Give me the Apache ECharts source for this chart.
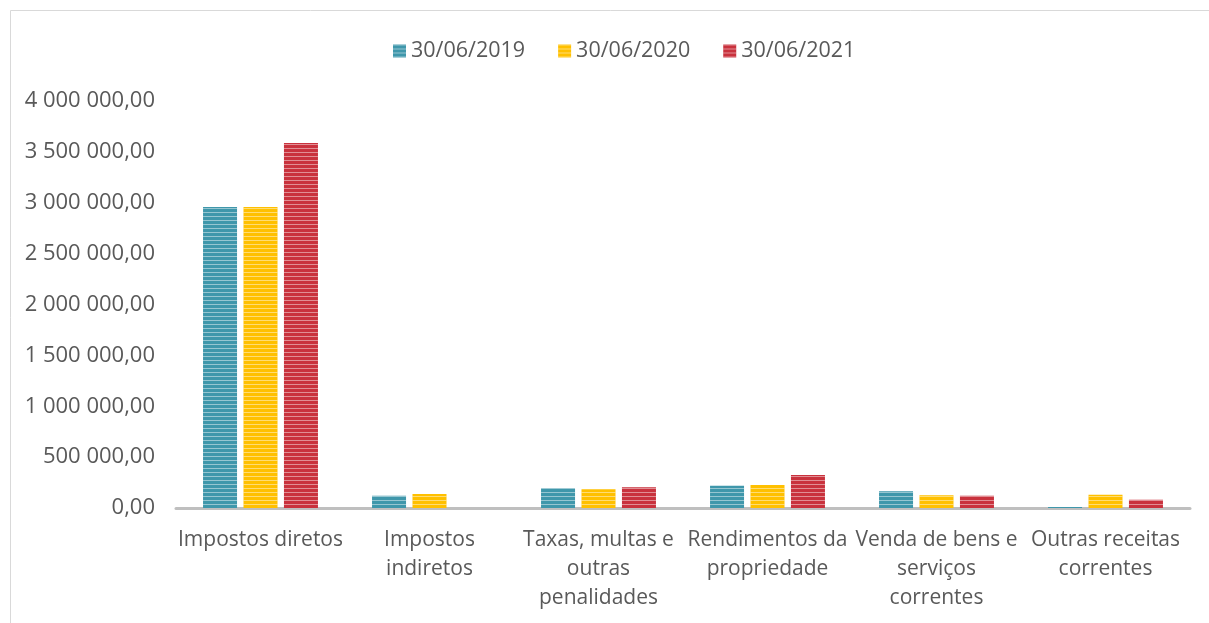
<!DOCTYPE html>
<html>
<head>
<meta charset="utf-8">
<script src="https://cdn.jsdelivr.net/npm/echarts@6/dist/echarts.min.js"></script>
<style>
html, body { margin: 0; padding: 0; background: #fff; }
#chart { width: 1209px; height: 623px; }
</style>
</head>
<body>
<div id="chart"></div>
<script>
// categorias do eixo X
var categorias = ['Impostos diretos', 'Impostos\nindiretos', 'Taxas, multas e\noutras\npenalidades',
    'Rendimentos da\npropriedade', 'Venda de bens e\nserviços\ncorrentes', 'Outras receitas\ncorrentes'];
var series_nomes = ['30/06/2019', '30/06/2020', '30/06/2021'];
// valores
var valores_2019 = [2958000, 121000, 194000, 219000, 164000, 10000];
var valores_2020 = [2958000, 138000, 184000, 226000, 125000, 131000];
var valores_2021 = [3587000, 0, 203000, 324000, 121000, 82000];
var cores = ['#3f97ab', '#ffc000', '#c9323d'];

var fonte = "'Open Sans', sans-serif";

// formatar números: 4 000 000,00
function formatarNumero(v) {
    var s = Math.round(v).toString();
    s = s.replace(/\B(?=(\d{3})+(?!\d))/g, ' ');
    return s + ',00';
}

function criarSerie(nome, dados, cor) {
    return {
        name: nome,
        type: 'bar',
        data: dados,
        barWidth: 34,
        barGap: '19%',
        itemStyle: {
            color: cor,
            decal: {
                symbol: 'rect',
                symbolSize: 1,
                color: 'rgba(255,255,255,0.45)',
                dashArrayX: [1, 0],
                dashArrayY: [1, 3],
                rotation: 0
            }
        }
    };
}

var chart = echarts.init(document.getElementById('chart'));
chart.setOption({
    animation: false,
    backgroundColor: '#fff',
    graphic: [{
        type: 'rect',
        shape: { x: 10.5, y: 10.5, width: 1260, height: 700 },
        style: { fill: 'none', stroke: '#d9d9d9', lineWidth: 1 }
    }],
    legend: {
        top: 35,
        left: 388,
        itemWidth: 13,
        itemHeight: 13,
        itemGap: 33,
        icon: 'rect',
        textStyle: { color: '#595959', fontSize: 21.5, fontFamily: fonte, padding: [0, 0, 0, 0] },
        data: series_nomes
    },
    grid: { left: 176, right: 19, top: 101, bottom: 115 },
    xAxis: {
        type: 'category',
        data: categorias,
        axisTick: { show: false },
        axisLine: { lineStyle: { color: '#bfbfbf', width: 3 } },
        axisLabel: {
            interval: 0,
            margin: 18,
            color: '#595959',
            fontSize: 21,
            lineHeight: 29,
            fontFamily: fonte
        }
    },
    yAxis: {
        type: 'value',
        min: 0,
        max: 4000000,
        interval: 500000,
        splitLine: { show: false },
        axisLine: { show: false },
        axisTick: { show: false },
        axisLabel: {
            margin: 21,
            color: '#595959',
            fontSize: 22,
            fontFamily: fonte,
            formatter: formatarNumero
        }
    },
    series: [
        criarSerie(series_nomes[0], valores_2019, cores[0]),
        criarSerie(series_nomes[1], valores_2020, cores[1]),
        criarSerie(series_nomes[2], valores_2021, cores[2])
    ]
});
</script>
</body>
</html>
